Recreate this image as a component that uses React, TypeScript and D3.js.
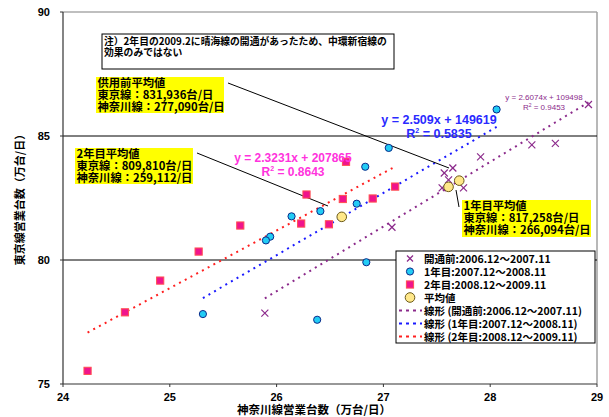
import React from 'react';
import * as d3 from 'd3';

// 神奈川線 (x) / 東京線 (y) 営業台数, 万台/日
const preX = [28.92, 28.39, 28.61, 27.91, 27.65, 27.57, 27.61, 27.55, 27.75, 27.08, 25.89];
const preY = [86.27, 84.64, 84.70, 84.16, 83.71, 83.51, 83.23, 82.91, 82.91, 81.32, 77.86];
const y1X = [28.06, 27.05, 26.83, 26.75, 26.41, 26.14, 25.94, 25.90, 26.84, 25.31, 26.38];
const y1Y = [86.07, 84.52, 83.76, 82.27, 81.97, 81.76, 80.94, 80.79, 79.91, 77.82, 77.59];
const y2X = [26.65, 26.28, 27.11, 26.62, 26.90, 26.23, 26.49, 25.66, 25.27, 24.91, 24.58, 24.23];
const y2Y = [83.96, 82.64, 82.96, 82.46, 82.48, 81.47, 81.44, 81.39, 80.34, 79.17, 77.89, 75.53];
const avgX = [27.71, 27.61, 26.61];
const avgY = [83.20, 82.95, 81.74];

// trend lines: slope, intercept (万台), x range
const trends = [
  { slope: 2.6074, icpt: 10.9498, x0: 25.89, x1: 28.92, color: '#8B2A8B' },
  { slope: 2.509, icpt: 14.9619, x0: 25.31, x1: 28.06, color: '#1A1AFF' },
  { slope: 2.3231, icpt: 20.7865, x0: 24.23, x1: 27.11, color: '#FF2020' },
];

const xTicks = [24, 25, 26, 27, 28, 29];
const yTicks = [75, 80, 85, 90];

const legendLabels = [
  '開通前:2006.12～2007.11',
  '1年目:2007.12～2008.11',
  '2年目:2008.12～2009.11',
  '平均値',
  '線形 (開通前:2006.12～2007.11)',
  '線形 (1年目:2007.12～2008.11)',
  '線形 (2年目:2008.12～2009.11)',
];

const jp = '"Noto Sans CJK JP", sans-serif';
const num = '"Liberation Sans", Arial, sans-serif';

const W = 609, H = 417;
const x = d3.scaleLinear().domain([24, 29]).range([63, 597]);
const y = d3.scaleLinear().domain([75, 90]).range([384, 12]);

const purple = '#8B2A8B';

const Cross = ({ cx, cy, s = 3.5 }: { cx: number; cy: number; s?: number }) => (
  <g stroke={purple} strokeWidth={1.2}>
    <line x1={cx - s} y1={cy - s} x2={cx + s} y2={cy + s} />
    <line x1={cx - s} y1={cy + s} x2={cx + s} y2={cy - s} />
  </g>
);
const Dot = ({ cx, cy }: { cx: number; cy: number }) => (
  <circle cx={cx} cy={cy} r={3.6} fill="#22CCF5" stroke="#0A2A8A" strokeWidth={1} />
);
const Sq = ({ cx, cy }: { cx: number; cy: number }) => (
  <rect x={cx - 3.6} y={cy - 3.6} width={7.2} height={7.2} fill="#F0148C" stroke="#FF5050" strokeWidth={1} />
);
const Avg = ({ cx, cy }: { cx: number; cy: number }) => (
  <circle cx={cx} cy={cy} r={4.8} fill="#FFE88A" stroke="#6B5A1A" strokeWidth={1} />
);

const Callout = ({ bx, by, bw, bh, lines }: { bx: number; by: number; bw: number; bh: number; lines: string[] }) => (
  <g>
    <rect x={bx} y={by} width={bw} height={bh} fill="#FFFF00" />
    {lines.map((t, i) => (
      <text key={i} x={bx + 1.5} y={by + 10 + i * 12} fontFamily={jp} fontWeight="bold" fontSize={11.3} fill="#000">{t}</text>
    ))}
  </g>
);

export default function App() {
  const line = (t: typeof trends[0]) =>
    d3.line<number>().x(v => x(v)).y(v => y(t.slope * v + t.icpt))([t.x0, t.x1]) as string;

  const legX = 396, legY = 251;
  return (
    <svg width={W} height={H} style={{ position: 'absolute', left: 0, top: 0, background: '#fff' }}>
      {/* plot frame */}
      <line x1={x(24)} y1={y(90)} x2={x(29)} y2={y(90)} stroke="#808080" strokeWidth={1.2} />
      <line x1={x(29)} y1={y(90)} x2={x(29)} y2={y(75)} stroke="#A0A0A0" strokeWidth={1.5} />
      {[80, 85].map(v => (
        <line key={v} x1={x(24)} x2={x(29)} y1={y(v)} y2={y(v)} stroke="#000" strokeWidth={1} />
      ))}
      <line x1={x(24)} y1={y(90)} x2={x(24)} y2={y(75)} stroke="#333" strokeWidth={1.2} />
      <line x1={x(24)} y1={y(75)} x2={x(29)} y2={y(75)} stroke="#333" strokeWidth={1.2} />
      {yTicks.map(v => (
        <g key={v}>
          <line x1={x(24) - 3} x2={x(24)} y1={y(v)} y2={y(v)} stroke="#333" />
          <text x={50} y={y(v) + 4} textAnchor="end" fontFamily={num} fontWeight="bold" fontSize={11}>{v}</text>
        </g>
      ))}
      {xTicks.map(v => (
        <g key={v}>
          <line x1={x(v)} x2={x(v)} y1={y(75)} y2={y(75) + 3} stroke="#333" />
          <text x={x(v)} y={401} textAnchor="middle" fontFamily={num} fontWeight="bold" fontSize={11}>{v}</text>
        </g>
      ))}
      <text x={314} y={414} textAnchor="middle" fontFamily={jp} fontWeight="bold" fontSize={11.5}>神奈川線営業台数（万台/日）</text>
      <text transform="translate(24,197) rotate(-90)" textAnchor="middle" fontFamily={jp} fontWeight="bold" fontSize={11}>東京線営業台数（万台/日）</text>

      {/* note */}
      <rect x={102} y={34} width={292} height={35} fill="#fff" stroke="#000" strokeWidth={1} />
      <text x={104} y={45} fontFamily={jp} fontWeight="bold" fontSize={9.8}>注）2年目の2009.2に晴海線の開通があったため、中環新宿線の</text>
      <text x={104} y={56} fontFamily={jp} fontWeight="bold" fontSize={9.8}>効果のみではない</text>

      {/* trend lines */}
      {trends.map((t, i) => (
        <path key={i} d={line(t)} stroke={t.color} strokeWidth={2} strokeDasharray="2 4.5" fill="none" />
      ))}

      {/* leader lines */}
      <line x1={228} y1={83} x2={449} y2={168} stroke="#000" strokeWidth={1} />
      <line x1={197} y1={153} x2={328} y2={206} stroke="#000" strokeWidth={1} />
      <line x1={456} y1={190} x2={459} y2={207} stroke="#000" strokeWidth={1} />

      {/* points */}
      {preX.map((v, i) => <Cross key={'p' + i} cx={x(v)} cy={y(preY[i])} />)}
      {y1X.map((v, i) => <Dot key={'a' + i} cx={x(v)} cy={y(y1Y[i])} />)}
      {y2X.map((v, i) => <Sq key={'b' + i} cx={x(v)} cy={y(y2Y[i])} />)}
      {avgX.map((v, i) => <Avg key={'m' + i} cx={x(v)} cy={y(avgY[i])} />)}

      {/* equations */}
      <text x={439} y={124} textAnchor="middle" fontFamily={num} fontWeight="bold" fontSize={12.5} fill="#2A2AFF">y = 2.509x + 149619</text>
      <text x={439} y={138} textAnchor="middle" fontFamily={num} fontWeight="bold" fontSize={12.5} fill="#2A2AFF">R<tspan dy={-5} fontSize={7}>2</tspan><tspan dy={5}> = 0.5835</tspan></text>
      <text x={293} y={162} textAnchor="middle" fontFamily={num} fontWeight="bold" fontSize={12} fill="#FF33DD">y = 2.3231x + 207865</text>
      <text x={293} y={176} textAnchor="middle" fontFamily={num} fontWeight="bold" fontSize={12} fill="#FF33DD">R<tspan dy={-5} fontSize={7}>2</tspan><tspan dy={5}> = 0.8643</tspan></text>
      <text x={544} y={100} textAnchor="middle" fontFamily={num} fontSize={8} fill={purple}>y = 2.6074x + 109498</text>
      <text x={544} y={110} textAnchor="middle" fontFamily={num} fontSize={8} fill={purple}>R<tspan dy={-3} fontSize={5}>2</tspan><tspan dy={3}> = 0.9453</tspan></text>

      {/* callouts */}
      <Callout bx={96} by={77} bw={128} bh={36} lines={['供用前平均値', '東京線：831,936台/日', '神奈川線：277,090台/日']} />
      <Callout bx={75} by={148} bw={118} bh={36} lines={['2年目平均値', '東京線：809,810台/日', '神奈川線：259,112/日']} />
      <Callout bx={462} by={200} bw={129} bh={37} lines={['1年目平均値', '東京線：817,258台/日', '神奈川線：266,094台/日']} />

      {/* legend */}
      <rect x={legX} y={legY} width={199} height={92} fill="#fff" stroke="#000" strokeWidth={1} />
      {legendLabels.map((t, i) => {
        const cy = legY + 7.5 + i * 13;
        const sx = 410;
        let sym: React.ReactNode = null;
        if (i === 0) sym = <Cross cx={sx} cy={cy} s={3} />;
        else if (i === 1) sym = <Dot cx={sx} cy={cy} />;
        else if (i === 2) sym = <Sq cx={sx} cy={cy} />;
        else if (i === 3) sym = <Avg cx={sx} cy={cy} />;
        else sym = <line x1={399} x2={422} y1={cy} y2={cy} stroke={trends[i - 4].color} strokeWidth={2} strokeDasharray="3 4" />;
        return (
          <g key={i}>
            {sym}
            <text x={424} y={cy + 4} fontFamily={jp} fontWeight="bold" fontSize={10.5}>{t}</text>
          </g>
        );
      })}
    </svg>
  );
}
